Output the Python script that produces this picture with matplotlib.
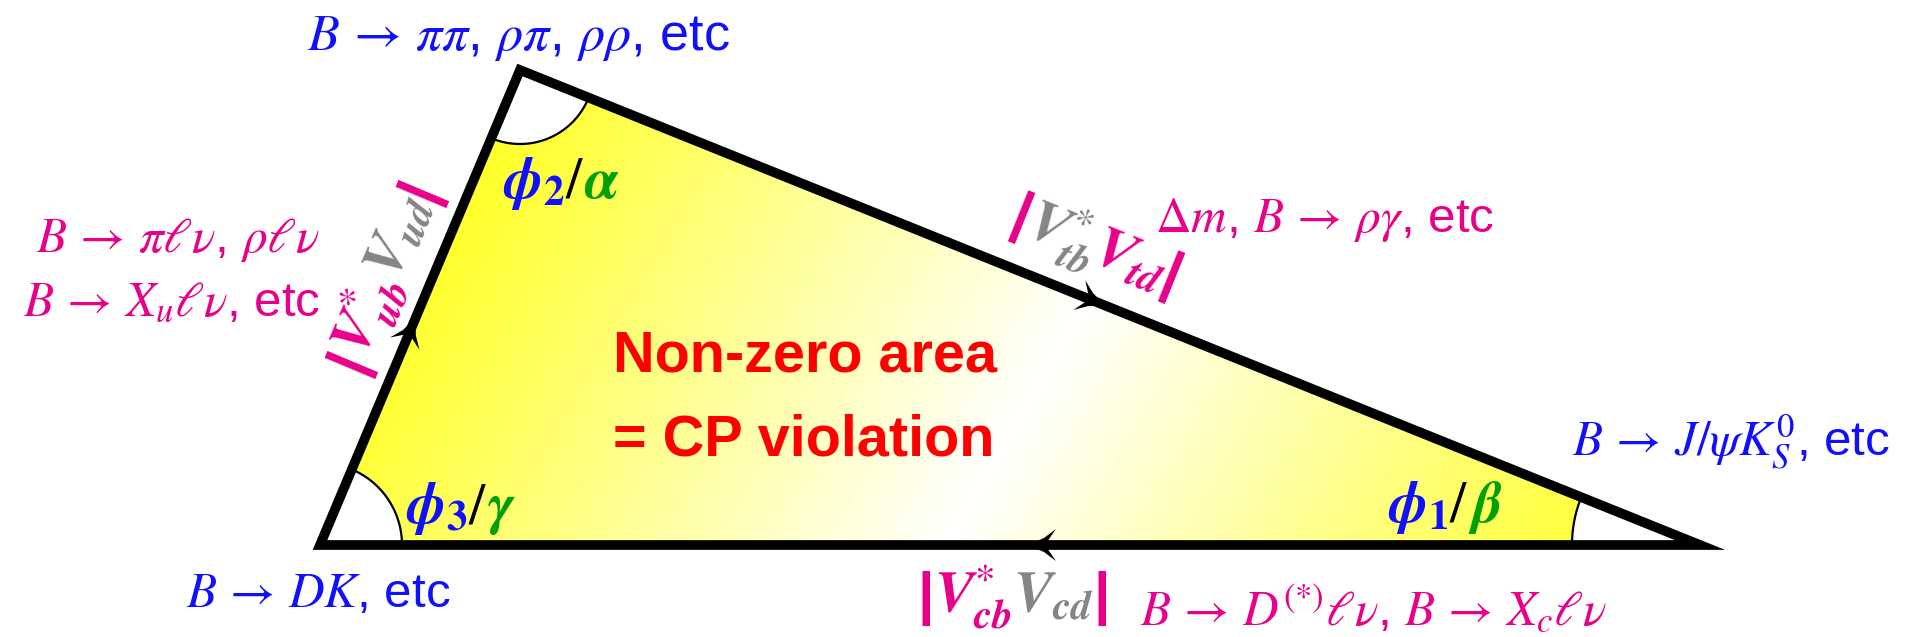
import numpy as np
import matplotlib.pyplot as plt
from matplotlib.patches import Polygon

plt.rcParams['mathtext.fontset'] = 'stix'
plt.rcParams['font.family'] = ['Liberation Sans', 'DejaVu Sans']

W, H = 1911, 637

# triangle corners, picture pixels (x to the right, y downwards)
corner_x = [320, 520, 1700]
corner_y = [545, 70, 545]
arc_radius = [82, 74, 128]
arrow_frac = [0.478, 0.496, 0.487]   # arrow position along each side

BLUE = '#1010FF'
MAG = '#E8008A'
GRAY = '#858585'
GREEN = '#00A000'
RED = '#FF0000'

# label texts
top_label = r'$B \,\rightarrow\, \pi\pi$, $\rho\pi$, $\rho\rho$, etc'
left_label = [r'$B \,\rightarrow\, \pi\ell\nu$, $\rho\ell\nu$', r'$B \,\rightarrow\, X_u\ell\nu$, etc']
bl_label = r'$B \,\rightarrow\, DK$, etc'
dm_label = r'$\Delta m$, $B \,\rightarrow\, \rho\gamma$, etc'
jpsi_label = r'$B \,\rightarrow\, J/\psi K^0_S$, etc'
dlnu_label = r'$B \,\rightarrow\, D^{(*)}\ell\nu$, $B \,\rightarrow\, X_c\ell\nu$'
area_text = ['Non-zero area', '= CP violation']

phi_labels = [
    [(r'$\mathbfit{\phi}_\mathbf{3}$', BLUE), (r'$/$', 'black'), (r'$\mathbfit{\gamma}$', GREEN)],
    [(r'$\mathbfit{\phi}_\mathbf{2}$', BLUE), (r'$/$', 'black'), (r'$\mathbfit{\alpha}$', GREEN)],
    [(r'$\mathbfit{\phi}_\mathbf{1}$', BLUE), (r'$/$', 'black'), (r'$\mathbfit{\beta}$', GREEN)],
]
side_labels = [
    [('|', MAG), (r'$\mathbfit{V}^{\!*}_{\mathbfit{ub}}$', MAG), (r'$\mathbfit{V}_{\mathbfit{ud}}$', GRAY), ('|', MAG)],
    [('|', MAG), (r'$\mathbfit{V}^{\!*}_{\mathbfit{tb}}$', GRAY), (r'$\mathbfit{V}_{\mathbfit{td}}$', MAG), ('|', MAG)],
    [('|', MAG), (r'$\mathbfit{V}^{\!*}_{\mathbfit{cb}}$', MAG), (r'$\mathbfit{V}_{\mathbfit{cd}}$', GRAY), ('|', MAG)],
]

fig = plt.figure(figsize=(W / 100, H / 100), dpi=100)
ax = fig.add_axes([0, 0, 1, 1])
renderer = fig.canvas.get_renderer()

pts = np.column_stack([corner_x, corner_y]).astype(float)

# yellow -> white -> yellow diagonal gradient inside the triangle
gx, gy = np.meshgrid(np.arange(W) + 0.5, np.arange(H) + 0.5)
ang = np.deg2rad(30)
proj = (gx - 1030) * np.cos(ang) + (gy - 400) * np.sin(ang)
s = np.clip(np.abs(proj) / 600, 0, 1)
yellow = np.array([1.0, 1.0, 0.15])
img = 1 - s[..., None] * (1 - yellow)
tri = Polygon(pts, closed=True, fc='none', ec='none')
ax.add_patch(tri)
im = ax.imshow(img, extent=(0, W, H, 0), origin='upper', zorder=1,
               interpolation='bilinear', aspect='auto')
im.set_clip_path(tri)

# angle arcs, white inside
for i in range(3):
    p = pts[i]
    a1 = np.arctan2(*(pts[i - 1] - p)[::-1])
    a2 = np.arctan2(*(pts[(i + 1) % 3] - p)[::-1])
    d = (a2 - a1 + np.pi) % (2 * np.pi) - np.pi
    t = a1 + np.linspace(0, 1, 60) * d
    ax_ = p[0] + arc_radius[i] * np.cos(t)
    ay_ = p[1] + arc_radius[i] * np.sin(t)
    ax.fill(np.r_[p[0], ax_], np.r_[p[1], ay_], color='white', zorder=2, lw=0)
    ax.plot(ax_, ay_, color='black', lw=1.6, zorder=3)

# outline
ax.add_patch(Polygon(pts, closed=True, fc='none', ec='black', lw=7,
                     joinstyle='miter', zorder=5))

# arrow heads: BL -> top -> right -> BL
for i in range(3):
    p0, p1 = pts[i], pts[(i + 1) % 3]
    u = (p1 - p0) / np.hypot(*(p1 - p0))
    n = np.array([-u[1], u[0]])
    tip = p0 + arrow_frac[i] * (p1 - p0)
    head = [tip, tip - 16 * u + 7 * n, tip - 28 * u + 16 * n, tip - 17 * u,
            tip - 28 * u - 16 * n, tip - 16 * u - 7 * n]
    ax.add_patch(Polygon(head, closed=True, fc='black', ec='none', zorder=6))


def chain(pieces, x0, y0, angle=0.0, size=30, align='left'):
    # draw coloured pieces one after the other along a (rotated) baseline
    widths = []
    for txt, col in pieces:
        fw = 'bold' if txt == '|' else 'normal'
        tt = ax.text(0, 0, txt, fontsize=size, fontweight=fw)
        widths.append(tt.get_window_extent(renderer=renderer).width)
        tt.remove()
    a = np.deg2rad(angle)
    ux, uy = np.cos(a), -np.sin(a)
    total = sum(widths)
    if align == 'center':
        x0, y0 = x0 - total / 2 * ux, y0 - total / 2 * uy
    x, y = x0, y0
    for (txt, col), w in zip(pieces, widths):
        fw = 'bold' if txt == '|' else 'normal'
        ax.text(x, y, txt, fontsize=size, color=col, fontweight=fw, rotation=angle,
                rotation_mode='anchor', ha='left', va='baseline', zorder=7)
        x += w * ux
        y += w * uy


fs = 35.5
ax.text(307, 50, top_label, color=BLUE, fontsize=37.5, va='baseline', zorder=7)
ax.text(320, 252, left_label[0], color=MAG, fontsize=fs, ha='right', va='baseline', zorder=7)
ax.text(320, 315, left_label[1], color=MAG, fontsize=fs, ha='right', va='baseline', zorder=7)
ax.text(186, 607, bl_label, color=BLUE, fontsize=fs, va='baseline', zorder=7)
ax.text(1155, 232, dm_label, color=MAG, fontsize=fs, va='baseline', zorder=7)
ax.text(1572, 455, jpsi_label, color=BLUE, fontsize=fs, va='baseline', zorder=7)
ax.text(1140, 625, dlnu_label, color=MAG, fontsize=fs, va='baseline', zorder=7)

ax.text(613, 372, area_text[0], color=RED, fontsize=41.5, fontweight='bold', va='baseline', zorder=7)
ax.text(613, 455, area_text[1], color=RED, fontsize=41.5, fontweight='bold', va='baseline', zorder=7)

phi_pos = [(406, 523), (503, 198), (1388, 522)]
for lab, (px, py) in zip(phi_labels, phi_pos):
    chain(lab, px, py, 0, size=42)

side_pos = [(398, 281), (1090, 262), (1014, 613)]
side_ang = [67.2, -21.9, 0]
for lab, (px, py), a in zip(side_labels, side_pos, side_ang):
    chain(lab, px, py, a, size=42, align='center')

ax.set_xlim(0, W)
ax.set_ylim(H, 0)
ax.axis('off')
fig.savefig('out.png', dpi=100)
